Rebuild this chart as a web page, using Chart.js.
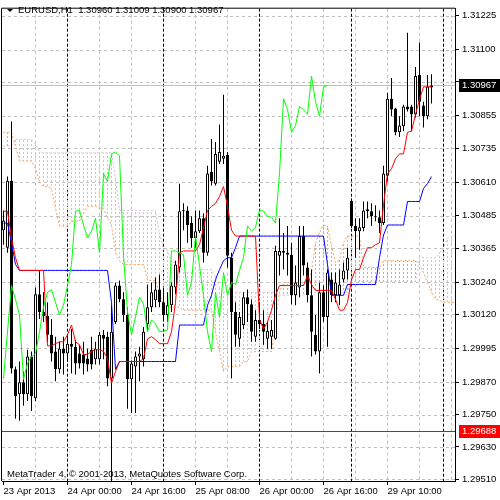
<!DOCTYPE html>
<html>
<head>
<meta charset="utf-8">
<title>EURUSD,H1</title>
<script src="https://cdn.jsdelivr.net/npm/chart.js@4.4.1/dist/chart.umd.min.js"></script>
<style>
  html, body { margin: 0; padding: 0; background: #fff; }
  #wrap { width: 500px; height: 500px; }
</style>
</head>
<body>
<div id="wrap"><canvas id="chart" width="500" height="500"></canvas></div>
<script>
// EURUSD H1 with Ichimoku, MetaTrader 4 look
const symbol = 'EURUSD,H1';
const copyright = 'MetaTrader 4, \u00A9 2001-2013, MetaQuotes Software Corp.';

const opens = [
    1.30432, 1.30367, 1.30615, 1.29917, 1.29825, 1.29869, 1.29825, 1.29965, 1.29810, 1.30195,
    1.30129, 1.30114, 1.30045, 1.29983, 1.29917, 1.29993, 1.29976, 1.30012, 1.30001, 1.29976,
    1.29972, 1.29957, 1.29990, 1.29954, 1.29954, 1.30045, 1.30038, 1.29883, 1.30092, 1.30227,
    1.30176, 1.30118, 1.29880, 1.29928, 1.29965, 1.29954, 1.30085, 1.30147, 1.30173, 1.30212,
    1.30165, 1.30118, 1.30154, 1.30220, 1.30294, 1.30502, 1.30505, 1.30458, 1.30403, 1.30428,
    1.30476, 1.30348, 1.30648, 1.30604, 1.30685, 1.30696, 1.30710, 1.30330, 1.30129, 1.30030,
    1.30081, 1.30184, 1.30158, 1.30038, 1.30100, 1.30085, 1.30030, 1.30038, 1.30030, 1.30337,
    1.30355, 1.30348, 1.30341, 1.30191, 1.30220, 1.30410, 1.30294, 1.30191, 1.30045, 1.29983,
    1.30202, 1.30111, 1.30249, 1.30191, 1.30191, 1.30249, 1.30283, 1.30541, 1.30447, 1.30428,
    1.30440, 1.30509, 1.30502, 1.30483, 1.30480, 1.30458, 1.30633, 1.30918, 1.30882, 1.30794,
    1.30816, 1.30889, 1.30889, 1.30860, 1.31006, 1.30893, 1.30853, 1.30960
];
const highs = [
    1.30505, 1.30630, 1.30834, 1.29928, 1.29946, 1.29909, 1.29990, 1.29983, 1.30220, 1.30283,
    1.30202, 1.30165, 1.30103, 1.30038, 1.30019, 1.30038, 1.30041, 1.30066, 1.30027, 1.30008,
    1.30019, 1.29993, 1.30038, 1.30019, 1.30056, 1.30063, 1.30056, 1.30154, 1.30238, 1.30246,
    1.30202, 1.30147, 1.29950, 1.29983, 1.30001, 1.30074, 1.30231, 1.30238, 1.30257, 1.30268,
    1.30220, 1.30202, 1.30238, 1.30319, 1.30604, 1.30531, 1.30520, 1.30483, 1.30505, 1.30505,
    1.30494, 1.30670, 1.30769, 1.30758, 1.30823, 1.30933, 1.30721, 1.30348, 1.30165, 1.30129,
    1.30202, 1.30212, 1.30176, 1.30136, 1.30165, 1.30136, 1.30092, 1.30100, 1.30374, 1.30476,
    1.30421, 1.30447, 1.30385, 1.30301, 1.30447, 1.30447, 1.30312, 1.30286, 1.30118, 1.30238,
    1.30227, 1.30286, 1.30275, 1.30275, 1.30286, 1.30312, 1.30367, 1.30549, 1.30476, 1.30476,
    1.30538, 1.30538, 1.30531, 1.30524, 1.30505, 1.30670, 1.30940, 1.30995, 1.30885, 1.30853,
    1.30896, 1.31162, 1.30896, 1.31035, 1.31126, 1.30907, 1.31006, 1.31009
];
const lows = [
    1.30378, 1.30348, 1.29902, 1.29734, 1.29727, 1.29782, 1.29800, 1.29763, 1.29800, 1.30103,
    1.30092, 1.30019, 1.29946, 1.29873, 1.29902, 1.29898, 1.29946, 1.29902, 1.29898, 1.29920,
    1.29898, 1.29909, 1.29917, 1.29935, 1.29935, 1.29954, 1.29855, 1.29497, 1.30085, 1.30165,
    1.30092, 1.29771, 1.29756, 1.29756, 1.29873, 1.29928, 1.30056, 1.30129, 1.30147, 1.30147,
    1.30100, 1.30092, 1.30129, 1.30195, 1.30275, 1.30432, 1.30385, 1.30367, 1.30367, 1.30421,
    1.30312, 1.30337, 1.30597, 1.30597, 1.30677, 1.30677, 1.30294, 1.29883, 1.30001, 1.30001,
    1.30066, 1.30092, 1.30019, 1.30019, 1.30066, 1.30008, 1.29993, 1.29993, 1.30027, 1.30264,
    1.30286, 1.30264, 1.30158, 1.30154, 1.30184, 1.30264, 1.30165, 1.29965, 1.29972, 1.29902,
    1.30092, 1.30001, 1.30165, 1.30165, 1.30154, 1.30238, 1.30249, 1.30440, 1.30330, 1.30359,
    1.30428, 1.30476, 1.30447, 1.30465, 1.30421, 1.30451, 1.30612, 1.30853, 1.30783, 1.30776,
    1.30798, 1.30871, 1.30798, 1.30849, 1.30853, 1.30812, 1.30842, 1.30900
];
const closes = [
    1.30468, 1.30615, 1.29920, 1.29818, 1.29869, 1.29825, 1.29965, 1.29818, 1.30195, 1.30129,
    1.30114, 1.30045, 1.29976, 1.29917, 1.29993, 1.29976, 1.30012, 1.30001, 1.29939, 1.29939,
    1.29939, 1.29935, 1.29935, 1.29993, 1.30045, 1.30030, 1.29883, 1.30056, 1.30227, 1.30176,
    1.30118, 1.29880, 1.29939, 1.29965, 1.29976, 1.30056, 1.30147, 1.30202, 1.30212, 1.30165,
    1.30118, 1.30154, 1.30227, 1.30305, 1.30502, 1.30505, 1.30451, 1.30403, 1.30428, 1.30476,
    1.30348, 1.30641, 1.30612, 1.30714, 1.30721, 1.30707, 1.30337, 1.30129, 1.30045, 1.30111,
    1.30184, 1.30158, 1.30056, 1.30100, 1.30085, 1.30056, 1.30059, 1.30063, 1.30355, 1.30355,
    1.30348, 1.30341, 1.30191, 1.30238, 1.30410, 1.30301, 1.30191, 1.30056, 1.29983, 1.30202,
    1.30111, 1.30275, 1.30191, 1.30238, 1.30231, 1.30283, 1.30330, 1.30447, 1.30428, 1.30443,
    1.30505, 1.30502, 1.30483, 1.30480, 1.30458, 1.30641, 1.30918, 1.30878, 1.30794, 1.30819,
    1.30889, 1.30878, 1.30860, 1.31002, 1.30907, 1.30853, 1.30962, 1.30967
];

// Tenkan-sen (red) and Kijun-sen (blue)
const tenkan = [
    1.30502, 1.30502, 1.30403, 1.30330, 1.30283, 1.30283, 1.30283, 1.30283, 1.30283, 1.30283,
    1.30283, 1.30004, 1.30004, 1.30012, 1.30019, 1.30019, 1.30045, 1.30081, 1.30019, 1.30008,
    1.29972, 1.29972, 1.29983, 1.29990, 1.29990, 1.29983, 1.29957, 1.29866, 1.29909, 1.29946,
    1.29946, 1.29946, 1.29946, 1.29946, 1.29946, 1.29957, 1.30030, 1.30038, 1.30027, 1.30012,
    1.30012, 1.30012, 1.30056, 1.30165, 1.30348, 1.30355, 1.30355, 1.30355, 1.30355, 1.30378,
    1.30440, 1.30505, 1.30520, 1.30531, 1.30556, 1.30593, 1.30520, 1.30432, 1.30410, 1.30410,
    1.30410, 1.30410, 1.30410, 1.30410, 1.30103, 1.30066, 1.30092, 1.30136, 1.30191, 1.30227,
    1.30227, 1.30227, 1.30227, 1.30227, 1.30227, 1.30227, 1.30264, 1.30231, 1.30209, 1.30209,
    1.30209, 1.30209, 1.30209, 1.30176, 1.30136, 1.30136, 1.30165, 1.30249, 1.30286, 1.30286,
    1.30330, 1.30367, 1.30367, 1.30378, 1.30385, 1.30524, 1.30641, 1.30659, 1.30696, 1.30714,
    1.30714, 1.30794, 1.30798, 1.30860, 1.30915, 1.30962, 1.30962, 1.30962
];
const kijun = [
    1.30458, 1.30458, 1.30385, 1.30305, 1.30283, 1.30283, 1.30283, 1.30283, 1.30283, 1.30283,
    1.30283, 1.30283, 1.30283, 1.30283, 1.30283, 1.30283, 1.30283, 1.30283, 1.30283, 1.30283,
    1.30283, 1.30283, 1.30283, 1.30283, 1.30283, 1.30283, 1.30283, 1.30165, 1.29917, 1.29946,
    1.29946, 1.29946, 1.29946, 1.29946, 1.29946, 1.29946, 1.29946, 1.29946, 1.29946, 1.29946,
    1.29946, 1.29946, 1.29946, 1.29946, 1.30081, 1.30081, 1.30081, 1.30081, 1.30081, 1.30081,
    1.30081, 1.30154, 1.30191, 1.30249, 1.30286, 1.30319, 1.30330, 1.30330, 1.30367, 1.30410,
    1.30410, 1.30410, 1.30410, 1.30410, 1.30410, 1.30410, 1.30410, 1.30410, 1.30410, 1.30410,
    1.30410, 1.30410, 1.30410, 1.30410, 1.30410, 1.30410, 1.30410, 1.30410, 1.30410, 1.30410,
    1.30410, 1.30305, 1.30191, 1.30191, 1.30191, 1.30191, 1.30231, 1.30231, 1.30231, 1.30231,
    1.30231, 1.30231, 1.30231, 1.30231, 1.30330, 1.30414, 1.30451, 1.30451, 1.30451, 1.30451,
    1.30451, 1.30538, 1.30538, 1.30538, 1.30538, 1.30586, 1.30604, 1.30630
];

// Senkou span A (sandy brown) and B (thistle), already shifted 26 bars ahead
const spanA = [
    1.30794, 1.30794, 1.30794, 1.30743, 1.30688, 1.30688, 1.30688, 1.30688, 1.30659, 1.30611,
    1.30593, 1.30593, 1.30586, 1.30513, 1.30447, 1.30447, 1.30447, 1.30465, 1.30465, 1.30465,
    1.30494, 1.30520, 1.30520, 1.30520, 1.30513, 1.30513, 1.30476, 1.30451, 1.30348, 1.30319,
    1.30305, 1.30305, 1.30305, 1.30305, 1.30305, 1.30305, 1.30246, 1.30246, 1.30246, 1.30202,
    1.30147, 1.30147, 1.30147, 1.30147, 1.30147, 1.30136, 1.30136, 1.30136, 1.30136, 1.30136,
    1.30136, 1.30136, 1.30136, 1.30056, 1.29983, 1.29909, 1.29928, 1.29928, 1.29928, 1.29928,
    1.29946, 1.29946, 1.29983, 1.29983, 1.29983, 1.29983, 1.29983, 1.29983, 1.30092, 1.30202,
    1.30238, 1.30238, 1.30238, 1.30238, 1.30238, 1.30238, 1.30238, 1.30275, 1.30385, 1.30421,
    1.30451, 1.30447, 1.30374, 1.30312, 1.30323, 1.30385, 1.30410, 1.30410, 1.30410, 1.30410,
    1.30294, 1.30294, 1.30294, 1.30294, 1.30294, 1.30319, 1.30319, 1.30319, 1.30319, 1.30319,
    1.30319, 1.30319, 1.30319, 1.30319, 1.30305, 1.30275, 1.30238, 1.30202, 1.30176, 1.30173,
    1.30165, 1.30165, 1.30165, 1.30165
];
const spanB = [
    1.30743, 1.30743, 1.30743, 1.30768, 1.30768, 1.30768, 1.30768, 1.30768, 1.30750, 1.30725,
    1.30718, 1.30718, 1.30718, 1.30718, 1.30718, 1.30718, 1.30718, 1.30718, 1.30718, 1.30718,
    1.30718, 1.30718, 1.30718, 1.30718, 1.30718, 1.30718, 1.30718, 1.30718, 1.30622, 1.30505,
    1.30505, 1.30505, 1.30505, 1.30505, 1.30505, 1.30505, 1.30505, 1.30505, 1.30505, 1.30421,
    1.30359, 1.30359, 1.30312, 1.30312, 1.30312, 1.30275, 1.30275, 1.30275, 1.30275, 1.30286,
    1.30286, 1.30286, 1.30286, 1.30257, 1.30220, 1.30202, 1.30202, 1.30202, 1.30202, 1.30202,
    1.30202, 1.30202, 1.30202, 1.30202, 1.30202, 1.30202, 1.30202, 1.30202, 1.30202, 1.30191,
    1.30191, 1.30191, 1.30191, 1.30191, 1.30191, 1.30191, 1.30202, 1.30202, 1.30202, 1.30202,
    1.30202, 1.30202, 1.30202, 1.30202, 1.30202, 1.30202, 1.30202, 1.30242, 1.30242, 1.30242,
    1.30242, 1.30242, 1.30242, 1.30242, 1.30242, 1.30242, 1.30242, 1.30242, 1.30242, 1.30242,
    1.30242, 1.30242, 1.30242, 1.30242, 1.30330, 1.30330, 1.30330, 1.30330, 1.30330, 1.30348,
    1.30367, 1.30403, 1.30410, 1.30410
];

// Chikou span: the close plotted 26 bars back
const chikouShift = 26;
const chikou = closes.slice(chikouShift);

const bidPrice = 1.30967;
const alertPrice = 1.29688;

const priceTicks = [
    1.31225, 1.31100, 1.30980, 1.30855, 1.30735, 1.30610, 1.30485, 1.30365,
    1.30240, 1.30120, 1.29995, 1.29870, 1.29750, 1.29630, 1.29510
];
const timeTickBars = [0, 16, 32, 48, 64, 80, 96];
const timeTickLabels = [
    '23 Apr 2013', '24 Apr 00:00', '24 Apr 16:00', '25 Apr 08:00',
    '26 Apr 00:00', '26 Apr 16:00', '29 Apr 10:00'
];
const separatorBars = [16, 40, 64, 87, 110];
const gridStep = 8;

const FONT = "'Liberation Sans', Arial, sans-serif";
const FONT_SIZE = 9.5;

const canvas = document.getElementById('chart');
const ctx = canvas.getContext('2d');

function hatch(color) {
    const c = document.createElement('canvas');
    c.width = 4;
    c.height = 4;
    const g = c.getContext('2d');
    g.fillStyle = color;
    g.fillRect(3, 0, 1, 2);
    return ctx.createPattern(c, 'repeat');
}

const toPoints = values => values.map((v, i) => ({x: i, y: v}));
const bullish = closes.map((c, i) => c >= opens[i]);

const mtPlugin = {
    id: 'mtPlugin',
    beforeDatasetsDraw(chart) {
        const {ctx, chartArea: a, scales: {x, y}} = chart;
        const px = b => Math.floor(x.getPixelForValue(b)) + 0.5;
        const py = v => Math.round(y.getPixelForValue(v)) + 0.5;

        ctx.save();
        ctx.lineWidth = 1;

        ctx.strokeStyle = '#c0c0c0';
        ctx.setLineDash([3, 3]);
        ctx.beginPath();
        priceTicks.forEach(v => {
            ctx.moveTo(a.left, py(v));
            ctx.lineTo(a.right, py(v));
        });
        for (let b = gridStep; b <= x.max; b += gridStep) {
            if (separatorBars.includes(b)) {
                continue;
            }
            ctx.moveTo(px(b), a.top);
            ctx.lineTo(px(b), a.bottom);
        }
        ctx.stroke();

        ctx.strokeStyle = '#000';
        ctx.setLineDash([3, 2]);
        ctx.beginPath();
        separatorBars.forEach(b => {
            ctx.moveTo(px(b), a.top);
            ctx.lineTo(px(b), a.bottom);
        });
        ctx.stroke();

        ctx.setLineDash([]);
        ctx.strokeStyle = '#c0c0c0';
        ctx.beginPath();
        ctx.moveTo(a.left, py(bidPrice));
        ctx.lineTo(a.right, py(bidPrice));
        ctx.stroke();

        ctx.strokeStyle = '#ff0000';
        ctx.beginPath();
        ctx.moveTo(a.left, py(alertPrice));
        ctx.lineTo(a.right, py(alertPrice));
        ctx.stroke();
        ctx.restore();
    },
    afterDraw(chart) {
        const {ctx, chartArea: a, scales: {y}} = chart;
        const last = closes.length - 1;

        ctx.save();
        // frame (left and top)
        ctx.strokeStyle = '#000';
        ctx.lineWidth = 1;
        ctx.beginPath();
        ctx.moveTo(a.left - 0.5, a.bottom);
        ctx.lineTo(a.left - 0.5, a.top - 0.5);
        ctx.lineTo(a.right, a.top - 0.5);
        ctx.stroke();

        // price boxes on the axis
        ctx.font = `${FONT_SIZE}px ${FONT}`;
        ctx.textBaseline = 'middle';
        ctx.textAlign = 'left';
        [[bidPrice, '#000'], [alertPrice, '#ff0000']].forEach(([v, bg]) => {
            const yy = Math.round(y.getPixelForValue(v));
            ctx.fillStyle = bg;
            ctx.fillRect(a.right + 4, yy - 6, 500 - a.right - 4, 13);
            ctx.fillStyle = '#fff';
            ctx.fillText(v.toFixed(5), a.right + 7, yy + 0.5);
        });

        // title
        ctx.fillStyle = '#000';
        ctx.beginPath();
        ctx.moveTo(7, 9);
        ctx.lineTo(13, 9);
        ctx.lineTo(10, 12);
        ctx.closePath();
        ctx.fill();
        const ohlc = [opens[last], highs[last], lows[last], closes[last]].map(v => v.toFixed(5)).join(' ');
        ctx.fillText(`${symbol}  ${ohlc}`, 18, 10.5);

        // copyright
        ctx.fillText(copyright, 7, 474.5);
        ctx.restore();
    }
};

new Chart(ctx, {
    type: 'bar',
    data: {
        datasets: [
            {
                type: 'line',
                label: 'Senkou Span A',
                data: toPoints(spanA),
                borderColor: '#f4a460',
                borderWidth: 1,
                borderDash: [2, 2],
                pointRadius: 0,
                tension: 0,
                fill: {target: 1, above: hatch('#f4a460'), below: hatch('#d8bfd8')},
                order: 10,
            },
            {
                type: 'line',
                label: 'Senkou Span B',
                data: toPoints(spanB),
                borderColor: '#d8bfd8',
                borderWidth: 1,
                borderDash: [2, 2],
                pointRadius: 0,
                tension: 0,
                fill: false,
                order: 9,
            },
            {
                label: 'Wicks',
                data: lows.map((l, i) => ({x: i, y: [l, highs[i]]})),
                backgroundColor: '#000',
                borderWidth: 0,
                barThickness: 1,
                grouped: false,
                inflateAmount: 0,
                order: 6,
            },
            {
                label: 'Bodies',
                data: opens.map((o, i) => ({x: i, y: [o, closes[i]]})),
                backgroundColor: bullish.map(b => (b ? '#fff' : '#000')),
                borderColor: '#000',
                borderWidth: 1,
                borderSkipped: false,
                barThickness: 3,
                minBarLength: 1,
                grouped: false,
                inflateAmount: 0,
                order: 5,
            },
            {
                type: 'line',
                label: 'Kijun-sen',
                data: toPoints(kijun),
                borderColor: '#0000ff',
                borderWidth: 1,
                pointRadius: 0,
                tension: 0,
                order: 3,
            },
            {
                type: 'line',
                label: 'Tenkan-sen',
                data: toPoints(tenkan),
                borderColor: '#ff0000',
                borderWidth: 1,
                pointRadius: 0,
                tension: 0,
                order: 2,
            },
            {
                type: 'line',
                label: 'Chikou Span',
                data: toPoints(chikou),
                borderColor: '#00ff00',
                borderWidth: 1,
                pointRadius: 0,
                tension: 0,
                order: 1,
            },
        ],
    },
    options: {
        responsive: false,
        animation: false,
        devicePixelRatio: 1,
        layout: {padding: {left: 2, top: 3, right: 0, bottom: 0}},
        plugins: {
            legend: {display: false},
            tooltip: {enabled: false},
        },
        scales: {
            x: {
                type: 'linear',
                min: -0.375,
                max: 112.875,
                offset: false,
                afterFit: scale => {
                    scale.height = 19;
                },
                afterBuildTicks: scale => {
                    scale.ticks = timeTickBars.map(value => ({value}));
                },
                grid: {drawOnChartArea: false, drawTicks: true, tickLength: 4, color: '#000', offset: false},
                border: {color: '#000', width: 1},
                ticks: {
                    autoSkip: false,
                    maxRotation: 0,
                    align: 'start',
                    labelOffset: 0,
                    padding: 1,
                    color: '#000',
                    font: {family: FONT, size: FONT_SIZE},
                    callback: (value, index) => timeTickLabels[index],
                },
            },
            y: {
                position: 'right',
                min: 1.295041,
                max: 1.31251,
                afterFit: scale => {
                    scale.width = 45;
                },
                afterBuildTicks: scale => {
                    scale.ticks = priceTicks.map(value => ({value}));
                },
                grid: {drawOnChartArea: false, drawTicks: true, tickLength: 4, color: '#000'},
                border: {color: '#000', width: 1},
                ticks: {
                    autoSkip: false,
                    padding: 3,
                    color: '#000',
                    font: {family: FONT, size: FONT_SIZE},
                    callback: value => value.toFixed(5),
                },
            },
        },
    },
    plugins: [mtPlugin],
});
</script>
</body>
</html>
